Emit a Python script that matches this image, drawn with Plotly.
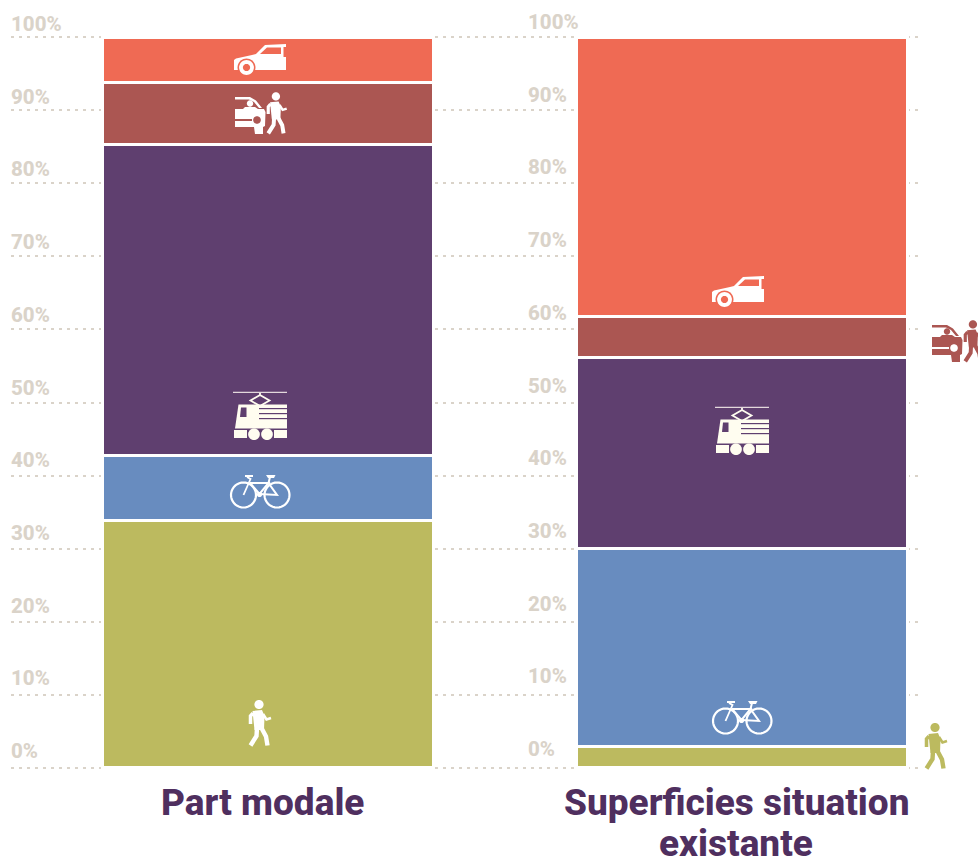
import math
import plotly.graph_objects as go

categories = ["Part modale", "Superficies situation<br>existante"]
modes = ["Marche", "Vélo", "Transports publics", "Dépose", "Voiture"]
walk = [33.9, 2.9]
bike = [8.8, 27.1]
train = [42.6, 26.1]
drop = [8.5, 5.6]
car = [6.2, 38.3]
series = [walk, bike, train, drop, car]
colors = ["#bcba5f", "#688cbf", "#5f3f6f", "#ab5652", "#ef6a54"]
tick_values = [0, 10, 20, 30, 40, 50, 60, 70, 80, 90, 100]
tick_labels = [f"{v}%" for v in tick_values]

W, H = 978, 861
L, R, T, B = 11, 55, 32, 88
PW, PH = W - L - R, H - T - B
PAD = 5 / 7.3  # value units of the 5 px kept past each end of the scale
GRID = "#dad3c9"
TITLE = "#4f2f5f"
TICK_FONT = dict(family="Roboto, sans-serif", size=20.5, color=GRID, weight=800)
TITLE_FONT = dict(family="Roboto, sans-serif", size=37, color=TITLE, weight=800)


def px(x, y):
    return (x - L) / PW, 1 - (y - T) / PH


def poly(points, fill=None, stroke=None, width=0, closed=True):
    parts = []
    for i, (x, y) in enumerate(points):
        a, b = px(x, y)
        parts.append(("M" if i == 0 else "L") + f"{a:.5f},{b:.5f}")
    path = " ".join(parts) + (" Z" if closed else "")
    return dict(type="path", xref="paper", yref="paper", path=path, layer="above",
                fillcolor=fill if fill else "rgba(0,0,0,0)",
                line=dict(color=stroke if stroke else "rgba(0,0,0,0)", width=width))


def disc(cx, cy, r, fill):
    pts = [(cx + r * math.cos(i * math.pi / 18), cy + r * math.sin(i * math.pi / 18)) for i in range(36)]
    return poly(pts, fill=fill)


def ring(cx, cy, r, color, width):
    pts = [(cx + r * math.cos(i * math.pi / 18), cy + r * math.sin(i * math.pi / 18)) for i in range(36)]
    return poly(pts, stroke=color, width=width)


def rect(x0, y0, x1, y1, fill):
    return poly([(x0, y0), (x1, y0), (x1, y1), (x0, y1)], fill=fill)


def icon_car(dx, dy, fg, bg):
    p = lambda *a: [(x + dx, y + dy) for x, y in a]
    return [
        poly(p((234, 70), (234, 60), (236, 58.5), (252, 55), (256, 54), (265, 45), (286, 44), (286, 47), (283.5, 47),
               (283.5, 57), (286, 57), (286, 70)), fill=fg),
        poly(p((260, 54), (267, 47.5), (281, 47.5), (281, 54)), fill=bg),
        disc(246.5 + dx, 67.5 + dy, 9, bg),
        disc(246.5 + dx, 67.5 + dy, 7.4, fg),
        disc(246.5 + dx, 67.5 + dy, 3.6, bg),
    ]


def icon_walker(dx, dy, fg, s=1.0, ox=258, oy=700):
    q = lambda x, y: (ox + (x - 258) * s + dx, oy + (y - 700) * s + dy)
    w = 4.4 * s
    return [
        disc(*q(259, 704.5), 4.6 * s, fg),
        poly([q(252.5, 711), q(262, 710), q(264.5, 716), q(264, 730), q(254.5, 730)], fill=fg),
        poly([q(253, 713), q(250.5, 716), q(250.5, 724)], stroke=fg, width=w * 0.8, closed=False),
        poly([q(263, 714), q(266.5, 719.5), q(271, 718)], stroke=fg, width=w * 0.6, closed=False),
        poly([q(257, 728), q(256.5, 736), q(250.5, 745.5)], stroke=fg, width=w, closed=False),
        poly([q(262, 729), q(266, 736.5), q(267.5, 745.5)], stroke=fg, width=w, closed=False),
    ]


def icon_drop(dx, dy, fg, bg):
    p = lambda *a: [(x + dx, y + dy) for x, y in a]
    out = [
        poly(p((235, 97), (250, 97), (256, 100.5), (262, 108), (259, 108), (254, 102), (249, 99.5), (235, 99.5)), fill=fg),
        disc(250 + dx, 103.5 + dy, 3.2, fg),
        poly(p((235, 109), (243, 109), (245, 107), (255, 107), (258, 109), (264, 109), (265.5, 112), (265, 126),
               (263, 127), (263, 134), (255, 134), (254, 127), (235, 127), (235, 121), (252, 121), (252, 119), (235, 119)),
             fill=fg),
        disc(257 + dx, 120 + dy, 3.8, bg),
    ]
    out += icon_walker(dx, dy, fg, s=0.9, ox=275, oy=92.4)
    return out


def icon_train(dx, dy, fg, bg):
    p = lambda *a: [(x + dx, y + dy) for x, y in a]
    out = [
        rect(233 + dx, 391.7 + dy, 287 + dx, 393 + dy, "#e3d8dc"),
        poly(p((260, 393), (260, 395), (250.5, 400.5), (260, 406), (269.5, 400.5), (260, 395)), stroke=fg, width=1.8),
        poly(p((238.5, 404.5), (287, 404.5), (287, 428.5), (235, 428.5)), fill=fg),
        poly(p((241, 407.5), (246.5, 407.5), (246.5, 417), (240, 417)), fill=bg),
        rect(234 + dx, 430 + dy, 247 + dx, 438 + dy, fg),
        rect(274 + dx, 430 + dy, 287 + dx, 438 + dy, fg),
        disc(254 + dx, 434.3 + dy, 5.8, fg),
        disc(267 + dx, 434.3 + dy, 5.8, fg),
    ]
    for y in (408, 413, 418):
        out.append(rect(259 + dx, y + dy, 287 + dx, y + 1.2 + dy, bg))
    return out


def icon_bike(dx, dy, fg):
    p = lambda *a: [(x + dx, y + dy) for x, y in a]
    out = [ring(243.5 + dx, 495 + dy, 12.5, fg, 2.2), ring(277 + dx, 495 + dy, 12.5, fg, 2.2)]
    out.append(poly(p((243.5, 495), (250.5, 479), (247, 477)), stroke=fg, width=1.8, closed=False))
    out.append(poly(p((250, 483), (268.5, 483), (259.5, 494), (250, 483)), stroke=fg, width=2, closed=False))
    out.append(poly(p((259.5, 494), (277, 495), (268.5, 483), (270, 477)), stroke=fg, width=2, closed=False))
    out.append(rect(245 + dx, 475 + dy, 253 + dx, 477 + dy, fg))
    out.append(poly(p((266, 475), (275.5, 475), (274, 478), (268, 478)), fill=fg))
    out.append(disc(259.5 + dx, 494.5 + dy, 2.6, fg))
    return out


fig = go.Figure()
for name, vals, col in zip(modes, series, colors):
    fig.add_trace(go.Bar(x=[0, 1], y=vals, name=name, marker=dict(color=col, line=dict(color="white", width=3)),
                         width=0.698, cliponaxis=False, hoverinfo="name+y"))

shapes = []
# white clearing behind the bars, so the dotted lines stop short of them
for x0, x1 in [(101, 438), (575, 909)]:
    a0, _ = px(x0, 0)
    a1, _ = px(x1, 0)
    shapes.append(dict(type="rect", xref="paper", yref="paper", x0=a0, x1=a1, y0=-0.001, y1=1.0,
                       fillcolor="white", line=dict(width=0), layer="between"))

fg = "white"
cream = "#fffdf0"
shapes += icon_car(0, 0, fg, colors[4]) + icon_car(478, 232, fg, colors[4])
shapes += icon_drop(0, 0, fg, colors[3]) + icon_drop(697, 228, colors[3], "white")
shapes += icon_train(0, 0, cream, colors[2]) + icon_train(482, 15, cream, colors[2])
shapes += icon_bike(0, 0, fg) + icon_bike(482, 226, fg)
shapes += icon_walker(0, 0, fg) + icon_walker(676, 23, colors[0])

annotations = []
for v, t in zip(tick_values, tick_labels):
    annotations.append(dict(x=0, xref="paper", y=v, yref="y", text=t, showarrow=False, xanchor="left", yanchor="bottom",
                            xshift=-2, yshift=3 - 0.04 * v, font=TICK_FONT))
    annotations.append(dict(x=(528 - L) / PW, xref="paper", y=v, yref="y", text=t, showarrow=False, xanchor="left",
                            yanchor="bottom", xshift=-2, yshift=5 - 0.04 * v, font=TICK_FONT))
for cat, cx in zip(categories, (262, 736)):
    for line, yp in zip(cat.split("<br>"), (802, 844)):
        annotations.append(dict(x=px(cx, 0)[0], xref="paper", y=px(0, yp)[1], yref="paper", text=line, showarrow=False,
                                xanchor="center", yanchor="middle", font=TITLE_FONT, align="center"))

# category slots run 474 px apart, bars centred at 268 and 742
x_lo = (L - 268) / 474
x_hi = (W - R - 268) / 474

fig.update_layout(
    width=W, height=H, margin=dict(l=L, r=R, t=T, b=B, autoexpand=False),
    barmode="stack", showlegend=False, paper_bgcolor="white", plot_bgcolor="white",
    xaxis=dict(range=[x_lo, x_hi], showgrid=False, zeroline=False, showticklabels=False, ticks=""),
    yaxis=dict(range=[-PAD, 100 + PAD], tickvals=tick_values, showticklabels=False, ticks="", zeroline=False,
               showgrid=True, gridcolor=GRID, gridwidth=2, griddash="3px,5px"),
    shapes=shapes, annotations=annotations,
)
fig.write_html("out.html", config=dict(displayModeBar=False),
               post_script="document.body.style.margin='0';document.body.style.overflow='hidden';")
